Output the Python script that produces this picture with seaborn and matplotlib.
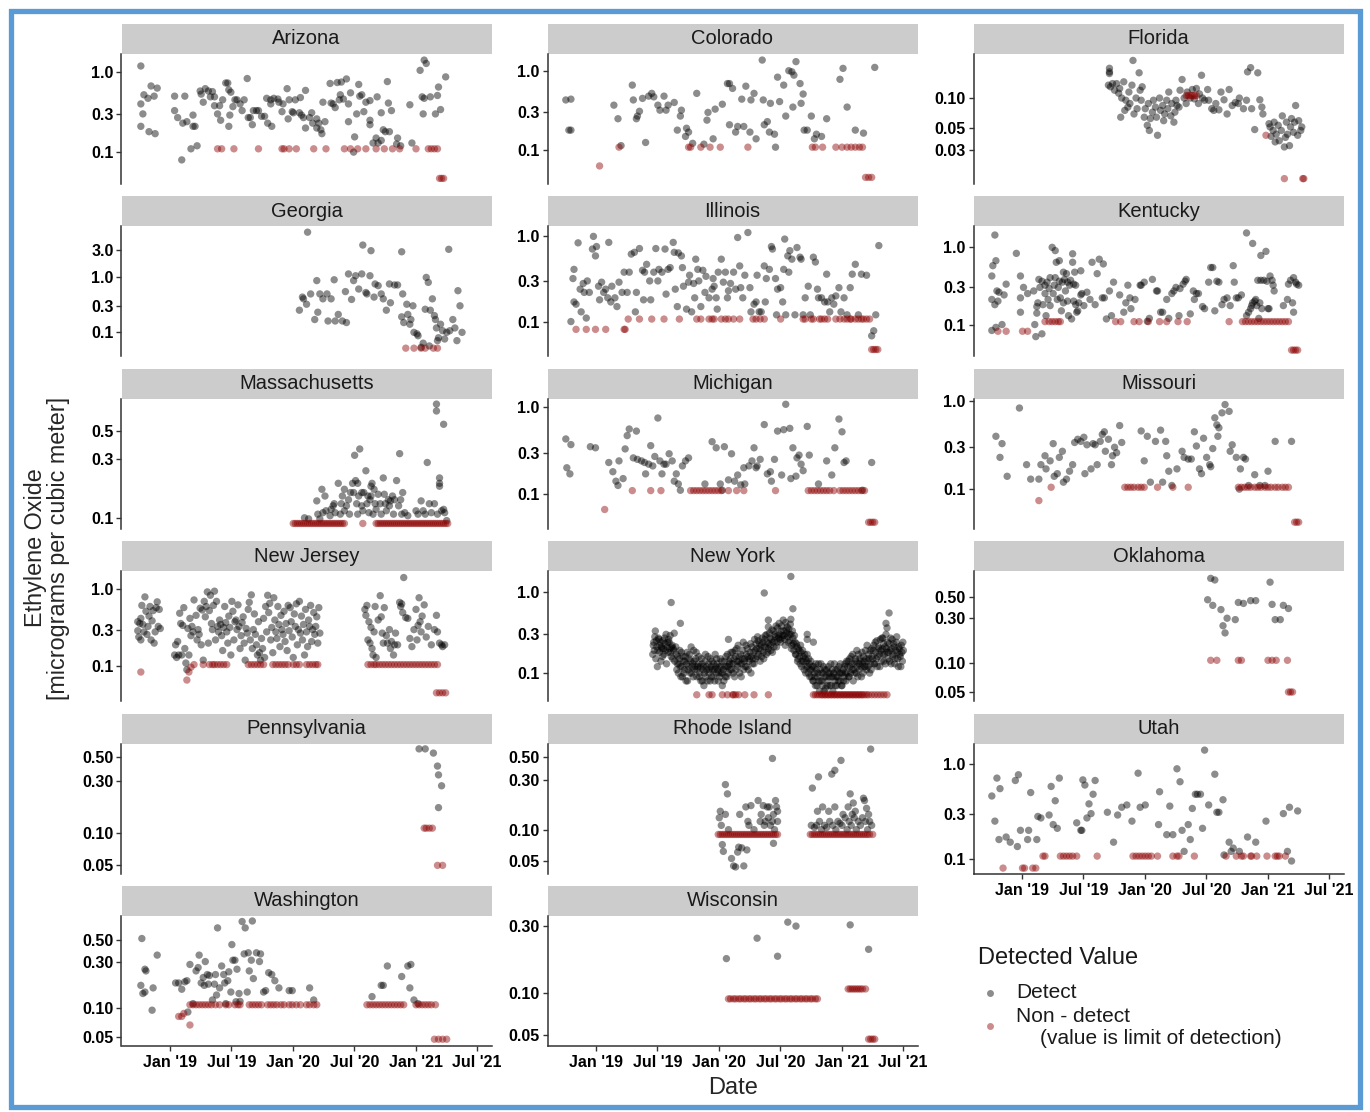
import numpy as np
import pandas as pd
import matplotlib
matplotlib.use("Agg")
import matplotlib.pyplot as plt
import seaborn as sns
from matplotlib.patches import Rectangle
from matplotlib.lines import Line2D
from matplotlib.ticker import NullLocator, FixedLocator, FixedFormatter

sns.set_theme(style="white")
plt.rcParams['font.family'] = ['Liberation Sans', 'DejaVu Sans']

# ---------------- DATA: (months since Jan 2019, concentration) ----------------
arizona_detect = [(-2.9,1.19),(-2.9,0.40),(-2.9,0.21),(-2.7,0.30),(-2.6,0.52),(-2.2,0.47),(-2.1,0.18),(-1.9,0.67),(-1.5,0.17),(-1.3,0.63),(-1.6,0.50),
    (0.4,0.50),(0.4,0.33),(0.7,0.27),(1.1,0.08),(1.2,0.23),(1.4,0.50),(1.6,0.24),(2.0,0.11),(2.2,0.29),(2.2,0.21),(2.4,0.21),(2.6,0.12),(2.9,0.58),(3.0,0.53),(3.2,0.42),(3.4,0.62),(3.7,0.58),(3.9,0.49),(4.1,0.57),(4.3,0.49),(4.3,0.38),(4.6,0.30),(4.8,0.38),(4.9,0.25),(5.1,0.45),(5.4,0.73),(5.6,0.73),(5.7,0.60),(5.8,0.29),(5.7,0.21),(5.9,0.56),(6.1,0.37),(6.3,0.45),(6.5,0.45),(6.8,0.40),(7.0,0.33),(7.2,0.45),(7.5,0.83),(7.6,0.27),(7.8,0.27),(8.0,0.22),(8.1,0.33),(8.4,0.33),(8.6,0.33),(8.9,0.28),(9.2,0.28),(9.4,0.47),(9.5,0.23),(9.8,0.40),(9.8,0.45),(9.9,0.21),(10.1,0.47),(10.5,0.46),(10.6,0.42),(10.9,0.32),(11.0,0.40),(11.4,0.62),(11.5,0.26),(11.6,0.45),(11.9,0.32),(12.0,0.31),(12.2,0.45),(12.6,0.31),(12.7,0.48),(12.8,0.29),(13.0,0.27),(13.2,0.20),(13.2,0.59),(13.6,0.27),(13.8,0.31),(13.9,0.23),(14.3,0.26),(14.3,0.20),(14.5,0.23),(14.7,0.19),(14.8,0.17),(14.9,0.42),(15.1,0.24),(15.6,0.72),(15.7,0.41),(15.9,0.40),(16.1,0.36),(16.3,0.74),(16.5,0.45),(16.6,0.52),(16.7,0.75),(16.9,0.46),(17.2,0.82),(17.4,0.40),(17.4,0.24),(17.6,0.55),(17.9,0.10),(18.0,0.155),(18.2,0.30),(18.4,0.70),(18.5,0.50),(18.7,0.52),(18.9,0.32),(19.1,0.42),(19.5,0.25),(19.5,0.22),(19.5,0.44),(19.8,0.13),(20.1,0.15),(20.2,0.49),(20.3,0.13),(20.6,0.14),(20.6,0.31),(20.8,0.19),(21.0,0.18),(21.2,0.76),(21.3,0.41),(21.4,0.18),(21.6,0.33),(22.1,0.126),(22.2,0.15),(22.5,0.12),(23.4,0.39),(23.6,0.13),(24.4,1.05),(24.6,0.49),(24.7,0.30),(24.8,1.41),(25.0,1.28),(24.8,0.47),(25.4,0.49),(25.9,0.30),(26.1,0.51),(26.2,0.65),(26.4,0.34),(26.9,0.87)]
arizona_nondetect = [(0.11,[4.6,5.0,6.2,8.6,10.9,11.1,11.6,12.3,14.0,15.2,17.0,17.6,18.3,19.1,20.1,20.9,21.7,22.4,24.0,25.2,25.5,25.8,26.1]),
    (0.047,[26.3,26.5,26.7])]

colorado_detect = [(-3.0,0.43),(-2.5,0.44),(-2.7,0.18),(-2.5,0.18),(1.7,0.37),(2.1,0.25),(2.4,0.115),(3.5,0.66),(3.6,0.43),(3.9,0.25),(4.0,0.27),(4.2,0.31),(4.5,0.45),(4.8,0.126),(5.1,0.48),(5.4,0.52),(5.6,0.47),(6.0,0.37),(6.2,0.32),(6.6,0.48),(6.8,0.32),(7.0,0.37),(7.6,0.40),(7.9,0.18),(8.2,0.27),(8.3,0.32),(8.7,0.15),(8.8,0.19),(9.0,0.17),(9.4,0.123),(9.8,0.52),(10.5,0.12),(10.8,0.24),(10.9,0.30),(11.4,0.14),(11.6,0.33),(12.3,0.38),(12.8,0.69),(13.0,0.69),(13.0,0.21),(13.3,0.60),(13.6,0.17),(13.8,0.20),(14.2,0.44),(14.4,0.20),(14.6,0.64),(15.0,0.17),(15.1,0.43),(15.4,0.52),(15.6,0.14),(16.2,1.36),(16.3,0.43),(16.4,0.21),(16.7,0.23),(16.9,0.17),(17.0,0.39),(17.4,0.16),(17.5,0.11),(17.7,0.83),(17.9,0.41),(18.3,0.66),(18.5,0.27),(18.8,1.0),(19.1,0.97),(19.2,0.35),(19.3,0.88),(19.5,1.30),(19.9,0.69),(20.0,0.39),(20.2,0.51),(20.3,0.18),(20.6,0.18),(21.0,0.27),(21.3,0.14),(21.5,0.16),(22.0,0.15),(22.5,0.25),(23.8,0.78),(24.1,1.07),(24.5,0.35),(25.3,0.18),(26.1,0.165),(27.2,1.10)]
colorado_nondetect = [(0.11,[2.2,9.0,9.2,10.2,11.1,12.1,14.8,21.1,21.4,22.1,23.4,24.0,24.5,24.9,25.3,25.7,26.0]),
    (0.064,[0.3]),(0.046,[26.3,26.6,26.9])]

florida_detect = [(8.5,0.20),(8.5,0.184),(8.5,0.177),(8.4,0.135),(8.6,0.13),(8.8,0.14),(9.0,0.12),(9.2,0.14),(9.4,0.112),(9.5,0.125),(9.6,0.064),(9.7,0.10),(9.9,0.146),(10.0,0.075),(10.1,0.095),(10.3,0.081),(10.4,0.115),(10.5,0.088),(10.7,0.135),(10.8,0.24),(10.9,0.069),(11.1,0.10),(11.2,0.078),(11.4,0.18),(11.5,0.12),(11.6,0.095),(11.7,0.13),(11.9,0.064),(12.0,0.078),(12.2,0.053),(12.3,0.088),(12.4,0.047),(12.5,0.062),(12.7,0.072),(12.8,0.095),(13.0,0.081),(13.1,0.064),(13.2,0.042),(13.4,0.10),(13.5,0.075),(13.7,0.084),(13.8,0.059),(13.9,0.069),(14.1,0.095),(14.2,0.078),(14.3,0.115),(14.5,0.066),(14.6,0.088),(14.8,0.057),(14.9,0.072),(15.0,0.095),(15.1,0.084),(15.3,0.081),(15.4,0.12),(15.6,0.154),(15.8,0.10),(16.0,0.088),(16.1,0.115),(16.4,0.10),(16.6,0.122),(16.8,0.098),(17.0,0.125),(17.2,0.088),(17.3,0.11),(17.5,0.17),(17.6,0.10),(17.8,0.095),(18.1,0.122),(18.2,0.095),(18.5,0.078),(18.7,0.075),(18.9,0.088),(19.2,0.076),(19.4,0.115),(19.7,0.096),(20.0,0.069),(20.2,0.122),(20.5,0.084),(20.8,0.09),(21.1,0.088),(21.2,0.10),(21.6,0.078),(21.9,0.095),(22.0,0.184),(22.3,0.203),(22.4,0.078),(22.7,0.048),(23.0,0.18),(23.2,0.096),(23.4,0.081),(23.5,0.069),(24.1,0.055),(24.2,0.051),(24.3,0.041),(24.5,0.047),(24.6,0.057),(24.7,0.036),(24.8,0.043),(25.0,0.053),(25.1,0.037),(25.3,0.047),(25.4,0.066),(25.6,0.032),(25.7,0.040),(25.8,0.057),(25.9,0.043),(26.1,0.033),(26.2,0.051),(26.3,0.062),(26.5,0.045),(26.6,0.057),(26.7,0.084),(26.9,0.042),(27.0,0.059),(27.2,0.047),(27.3,0.051)]
florida_nondetect = [(0.106,[16.0,16.2,16.4,16.6,16.8,17.0]),(0.042,[23.8]),(0.0153,[25.6,27.4,27.5])]

georgia_detect = [(12.6,0.25),(12.9,0.43),(13.0,0.40),(13.3,0.32),(13.4,6.3),(13.7,0.49),(14.1,0.17),(14.3,0.85),(14.4,0.23),(14.6,0.49),(14.9,0.40),(15.3,0.49),(15.4,0.16),(15.7,0.40),(16.0,0.88),(16.1,0.16),(16.4,0.21),(16.8,0.16),(17.1,0.54),(17.2,0.15),(17.4,1.12),(17.7,0.39),(17.9,0.85),(18.1,1.04),(18.4,0.60),(18.7,1.12),(18.8,3.7),(19.1,0.52),(19.2,0.49),(19.5,1.04),(19.6,2.93),(19.9,0.43),(20.0,0.74),(20.3,0.69),(20.6,0.49),(20.8,0.40),(21.1,0.25),(21.4,0.74),(21.5,0.34),(21.9,0.71),(22.2,0.71),(22.6,2.8),(22.6,0.19),(22.7,0.49),(22.8,0.15),(23.1,0.32),(23.2,0.21),(23.4,0.14),(23.5,0.17),(23.7,0.30),(23.8,0.10),(24.1,0.094),(24.2,0.087),(24.5,0.054),(24.7,0.064),(24.9,0.26),(25.0,0.97),(25.2,0.79),(25.3,0.057),(25.4,0.25),(25.6,0.40),(25.8,0.20),(25.9,0.17),(26.0,0.12),(26.1,0.071),(26.2,0.08),(26.4,0.14),(26.6,0.107),(26.8,0.076),(27.0,0.10),(27.2,3.1),(27.3,0.107),(27.6,0.17),(27.8,0.12),(28.0,0.071),(28.1,0.56),(28.3,0.30),(28.5,0.10)]
georgia_nondetect = [(0.052,[23.0,23.8,24.5,24.9,25.7,26.1])]

illinois_detect = [(-2.5,0.10),(-2.3,0.32),(-2.2,0.41),(-2.2,0.17),(-2.0,0.16),(-1.8,0.84),(-1.6,0.24),(-1.5,0.13),(-1.3,0.28),(-1.2,0.22),(-1.0,0.11),(-0.9,0.30),(-0.7,0.22),(-0.4,0.71),(-0.3,1.0),(-0.1,0.59),(0.0,0.76),(0.2,0.26),(0.3,0.18),(0.5,0.29),(0.7,0.22),(0.9,0.24),(1.1,0.19),(1.2,0.85),(1.4,0.17),(1.5,0.26),(1.8,0.19),(2.0,0.15),(2.2,0.29),(2.5,0.22),(2.7,0.38),(3.0,0.22),(3.2,0.38),(3.4,0.62),(3.7,0.65),(3.8,0.13),(3.9,0.22),(4.2,0.72),(4.5,0.40),(4.6,0.18),(4.7,0.38),(4.9,0.47),(5.2,0.30),(5.3,0.18),(5.6,0.38),(5.8,0.72),(6.0,0.30),(6.1,0.41),(6.4,0.38),(6.7,0.71),(6.8,0.21),(7.0,0.41),(7.2,0.43),(7.5,0.85),(7.6,0.65),(7.7,0.24),(7.9,0.15),(8.0,0.64),(8.3,0.59),(8.4,0.43),(8.5,0.26),(8.8,0.14),(9.0,0.29),(9.1,0.35),(9.3,0.13),(9.5,0.28),(9.6,0.19),(9.7,0.54),(9.9,0.41),(10.0,0.30),(10.2,0.15),(10.4,0.40),(10.6,0.22),(10.7,0.34),(11.0,0.19),(11.3,0.24),(11.4,0.32),(11.5,0.26),(11.7,0.19),(11.8,0.14),(11.9,0.38),(12.2,0.54),(12.4,0.29),(12.6,0.38),(12.8,0.19),(12.9,0.23),(13.1,0.28),(13.4,0.38),(13.6,0.24),(13.8,0.97),(14.0,0.45),(14.1,0.25),(14.3,0.19),(14.5,0.35),(14.8,1.11),(15.0,0.25),(15.1,0.13),(15.4,0.16),(15.6,0.17),(15.7,0.35),(15.9,0.13),(16.1,0.13),(16.4,0.45),(16.5,0.17),(16.6,0.32),(16.9,0.41),(17.1,0.76),(17.2,0.71),(17.5,0.32),(17.6,0.12),(17.7,0.24),(18.0,0.25),(18.2,0.17),(18.3,0.41),(18.4,0.93),(18.5,0.12),(18.7,0.59),(18.8,0.38),(18.9,0.68),(19.1,0.54),(19.4,0.12),(19.6,0.74),(19.9,0.57),(20.0,0.54),(20.2,0.12),(20.4,0.19),(20.7,0.26),(20.9,0.12),(21.2,0.57),(21.4,0.50),(21.6,0.24),(21.7,0.19),(22.0,0.19),(22.3,0.17),(22.5,0.36),(22.6,0.17),(22.8,0.13),(23.0,0.19),(23.2,0.16),(23.4,0.2),(23.7,0.25),(23.9,0.13),(24.2,0.19),(24.5,0.12),(24.8,0.25),(25.0,0.36),(25.3,0.47),(25.6,0.12),(25.9,0.36),(26.4,0.35),(26.9,0.068),(27.1,0.078),(27.3,0.12),(27.6,0.78)]
illinois_nondetect = [(0.107,[3.1,4.2,5.4,6.6,8.1,9.8,10.2,11.0,11.3,11.5,12.2,12.6,12.9,13.4,14.0,15.3,15.6,16.0,16.4,18.0,20.2,20.4,21.0,21.2,21.8,22.0,22.3,22.6,23.4,23.8,24.2,24.5,24.8,24.9,25.3,25.6,25.9,26.1,26.4,26.7]),
    (0.081,[-2.0,-1.0,-0.1,0.9,2.7,2.8]),(0.047,[26.9,27.1,27.3,27.5])]

kentucky_detect = [(-3.0,0.42),(-3.0,0.21),(-3.0,0.084),(-2.9,0.57),(-2.7,1.41),(-2.7,0.18),(-2.6,0.66),(-2.6,0.092),(-2.5,0.27),(-2.4,0.20),(-2.3,0.26),(-2.0,0.1),(-1.8,0.24),(-1.6,0.33),(-0.6,0.82),(-0.2,0.42),(-0.2,0.22),(-0.2,0.144),(0.1,0.3),(0.5,0.25),(1.1,0.27),(1.2,0.1),(1.3,0.07),(1.4,0.14),(1.4,0.17),(1.5,0.19),(1.6,0.38),(1.7,0.3),(1.9,0.36),(1.9,0.076),(2.0,0.18),(2.2,0.25),(2.2,0.32),(2.3,0.13),(2.4,0.35),(2.5,0.21),(2.6,0.29),(2.7,0.40),(2.7,0.175),(2.9,0.98),(3.0,0.25),(3.1,0.32),(3.2,0.40),(3.2,0.89),(3.3,0.63),(3.4,0.21),(3.5,0.3),(3.6,0.66),(3.6,0.36),(3.7,0.22),(3.8,0.15),(3.9,0.35),(4.0,0.47),(4.0,0.19),(4.1,0.38),(4.2,0.27),(4.3,0.45),(4.4,0.35),(4.4,0.20),(4.5,0.13),(4.6,0.32),(4.7,0.37),(4.8,0.118),(4.9,0.63),(4.9,0.81),(5.0,0.33),(5.0,0.20),(5.1,0.47),(5.2,0.32),(5.2,0.18),(5.3,0.144),(5.4,0.15),(5.5,0.19),(5.7,0.49),(5.7,0.24),(5.8,0.25),(6.0,0.175),(6.3,0.26),(6.6,0.21),(6.8,0.63),(7.1,0.18),(7.3,0.45),(7.5,0.69),(7.8,0.22),(7.9,0.60),(8.0,0.22),(8.2,0.118),(8.5,0.27),(8.7,0.13),(8.9,0.35),(9.5,0.24),(9.9,0.144),(10.1,0.19),(10.3,0.32),(10.5,0.22),(10.6,0.16),(11.0,0.21),(11.5,0.32),(11.6,0.32),(11.9,0.35),(12.2,0.11),(12.4,0.12),(12.7,0.38),(13.1,0.27),(13.2,0.27),(13.5,0.144),(13.7,0.144),(14.1,0.21),(14.3,0.12),(14.6,0.25),(14.8,0.27),(15.0,0.3),(15.3,0.13),(15.4,0.29),(15.7,0.33),(15.9,0.36),(16.0,0.38),(16.4,0.137),(16.7,0.27),(16.8,0.21),(17.0,0.25),(17.2,0.25),(17.6,0.17),(17.8,0.16),(18.2,0.35),(18.4,0.54),(18.6,0.54),(18.8,0.15),(19.0,0.36),(19.2,0.35),(19.5,0.18),(19.7,0.21),(20.0,0.22),(20.3,0.175),(20.6,0.57),(20.7,0.35),(20.9,0.22),(21.1,0.22),(21.4,0.24),(21.9,0.13),(21.9,1.5),(22.1,0.144),(22.3,0.16),(22.4,0.175),(22.5,0.19),(22.5,1.1),(22.7,0.20),(22.8,0.21),(22.9,0.175),(23.0,0.37),(23.1,0.12),(23.2,0.19),(23.3,0.77),(23.3,0.37),(23.4,0.16),(23.6,0.37),(23.8,0.87),(23.9,0.36),(24.0,0.16),(24.1,0.16),(24.2,0.42),(24.4,0.37),(24.5,0.32),(24.6,0.27),(25.5,0.175),(25.9,0.21),(26.0,0.33),(26.2,0.37),(26.4,0.19),(26.5,0.144),(26.5,0.40),(26.7,0.35),(26.8,0.33),(27.0,0.32)]
kentucky_nondetect = [(0.109,[2.2,2.6,2.9,3.2,3.5,3.7,9.1,9.6,10.9,11.4,12.3,13.4,14.1,15.2,16.1,20.2,21.5,21.8,22.1,22.4,22.7,23.0,23.3,23.6,23.9,24.2,24.5,24.8,25.1,25.4,25.7,26.0]),
    (0.082,[-2.4,-1.6,0.0,0.5]),(0.047,[26.3,26.5,26.7,26.9])]

massachusetts_detect = [(13.1,0.10),(13.5,0.098),(14.3,0.137),(14.4,0.107),(14.6,0.098),(14.8,0.17),(14.9,0.11),(15.1,0.15),(15.2,0.114),(15.6,0.104),(15.7,0.117),(15.9,0.125),(16.0,0.13),(16.1,0.11),(16.4,0.19),(16.6,0.107),(16.7,0.13),(16.8,0.15),(17.0,0.17),(17.0,0.114),(17.2,0.125),(17.4,0.14),(17.5,0.107),(17.6,0.16),(17.8,0.19),(17.9,0.16),(18.0,0.32),(18.1,0.2),(18.2,0.13),(18.3,0.19),(18.3,0.107),(18.4,0.15),(18.5,0.36),(18.7,0.125),(18.7,0.16),(18.8,0.114),(18.9,0.16),(19.1,0.24),(19.2,0.13),(19.3,0.15),(19.4,0.11),(19.5,0.14),(19.6,0.15),(19.6,0.18),(19.7,0.19),(19.8,0.107),(19.9,0.17),(20.0,0.13),(20.1,0.117),(20.3,0.155),(20.5,0.13),(20.6,0.107),(20.8,0.21),(20.9,0.155),(21.0,0.13),(21.1,0.114),(21.3,0.14),(21.4,0.125),(21.5,0.137),(21.7,0.15),(21.8,0.107),(21.9,0.14),(22.1,0.2),(22.3,0.125),(22.4,0.33),(22.5,0.14),(22.6,0.107),(22.7,0.16),(22.9,0.11),(23.2,0.104),(24.0,0.114),(24.2,0.107),(24.5,0.137),(24.7,0.114),(24.9,0.107),(25.1,0.28),(25.3,0.13),(25.5,0.11),(25.8,0.13),(26.0,0.83),(26.0,0.73),(26.1,0.107),(26.3,0.21),(26.3,0.19),(26.3,0.18),(26.5,0.114),(26.7,0.57),(26.7,0.117),(26.8,0.11),(27.0,0.095)]
massachusetts_nondetect = [(0.09,[12.0,12.2,12.4,12.6,12.8,13.0,13.2,13.4,13.6,13.8,14.0,14.2,14.4,14.6,14.8,15.0,15.2,15.4,15.6,15.8,16.0,16.2,16.4,16.6,16.8,17.0,18.8,20.1,20.3,20.5,20.7,20.9,21.1,21.3,21.5,21.7,21.9,22.1,22.3,22.5,22.7,22.9,23.1,23.3,23.5,23.7,23.9,24.1,24.3,24.5,24.7,24.9,25.1,25.3,25.5,25.7,25.9,26.1,26.3,26.5,26.7,26.9,27.1])]

michigan_detect = [(-3.0,0.43),(-2.9,0.2),(-2.6,0.17),(-2.5,0.37),(-0.6,0.35),(-0.1,0.34),(1.2,0.23),(1.6,0.18),(1.9,0.14),(2.1,0.125),(2.2,0.24),(2.6,0.15),(2.8,0.33),(3.0,0.47),(3.2,0.56),(3.6,0.26),(3.9,0.53),(4.0,0.25),(4.4,0.24),(4.7,0.23),(4.8,0.17),(5.1,0.22),(5.3,0.36),(5.5,0.21),(5.7,0.27),(6.0,0.75),(6.2,0.24),(6.4,0.17),(6.6,0.22),(6.8,0.22),(7.1,0.29),(7.4,0.24),(7.6,0.14),(7.8,0.17),(8.0,0.13),(8.2,0.11),(8.4,0.21),(8.7,0.24),(9.0,0.26),(10.6,0.13),(11.3,0.40),(11.7,0.34),(12.3,0.11),(12.5,0.35),(12.1,0.13),(12.9,0.145),(13.2,0.29),(13.5,0.14),(13.8,0.165),(14.1,0.127),(14.4,0.2),(14.5,0.13),(14.9,0.21),(15.2,0.24),(15.4,0.34),(15.6,0.2),(15.7,0.21),(16.0,0.25),(16.4,0.63),(16.7,0.17),(17.0,0.18),(17.1,0.14),(17.4,0.25),(17.7,0.53),(18.1,0.165),(18.3,0.55),(18.5,1.08),(18.9,0.57),(19.0,0.15),(19.2,0.34),(19.5,0.16),(19.6,0.26),(19.8,0.28),(20.0,0.22),(20.2,0.185),(20.6,0.6),(20.8,0.28),(21.7,0.13),(22.5,0.24),(23.0,0.165),(23.3,0.34),(23.7,0.73),(24.0,0.52),(24.2,0.23),(24.4,0.24),(26.0,0.11),(26.9,0.23)]
michigan_nondetect = [(0.109,[3.5,5.3,6.3,9.2,9.5,9.8,10.1,10.4,10.7,11.0,11.3,11.6,11.9,12.2,12.9,13.7,14.4,17.5,20.7,21.0,21.3,21.6,21.9,22.2,22.5,22.8,23.2,23.8,24.1,24.4,24.7,25.0,25.3,25.6,25.9,26.2]),
    (0.066,[0.8]),(0.047,[26.6,26.8,27.0,27.2])]

missouri_detect = [(-2.6,0.40),(-2.2,0.23),(-2.0,0.33),(-1.5,0.14),(-0.3,0.84),(0.4,0.19),(0.8,0.13),(1.6,0.13),(1.8,0.19),(2.2,0.24),(2.3,0.17),(2.7,0.21),(3.0,0.33),(3.1,0.14),(3.4,0.15),(3.6,0.23),(3.9,0.27),(4.0,0.12),(4.3,0.13),(4.6,0.16),(4.9,0.19),(5.1,0.34),(5.4,0.37),(5.7,0.35),(6.0,0.39),(6.1,0.15),(6.3,0.32),(6.7,0.17),(6.9,0.33),(7.1,0.32),(7.3,0.19),(7.6,0.35),(7.8,0.42),(8.0,0.45),(8.1,0.27),(8.4,0.37),(8.7,0.19),(8.8,0.24),(9.0,0.30),(9.2,0.26),(9.5,0.53),(9.7,0.34),(11.6,0.46),(11.9,0.21),(12.2,0.40),(12.5,0.12),(13.0,0.35),(13.5,0.47),(13.7,0.12),(14.0,0.35),(14.1,0.24),(14.3,0.16),(14.6,0.11),(15.1,0.17),(15.6,0.27),(15.8,0.23),(16.2,0.22),(16.5,0.22),(16.8,0.45),(17.0,0.31),(17.3,0.17),(17.5,0.15),(17.7,0.38),(18.0,0.23),(18.3,0.19),(18.4,0.18),(18.6,0.29),(18.8,0.65),(19.0,0.54),(19.1,0.40),(19.2,0.50),(19.5,0.74),(19.8,0.92),(20.2,0.77),(20.3,0.27),(20.5,0.32),(20.9,0.23),(21.2,0.1),(21.3,0.17),(21.6,0.23),(21.8,0.22),(22.1,0.11),(22.7,0.146),(23.2,0.11),(23.7,0.11),(24.0,0.16),(24.7,0.35),(26.3,0.35)]
missouri_nondetect = [(0.105,[2.8,10.0,10.3,10.6,10.9,11.3,11.6,11.9,13.2,14.7,16.2,21.1,21.4,21.7,22.0,22.3,22.7,23.0,23.3,23.7,24.0,24.3,24.7,25.0,25.4,25.7,26.0]),
    (0.074,[1.6]),(0.042,[26.6,26.8,27.0])]

new_jersey_detect = [(-3.2,0.38),(-3.2,0.29),(-3.1,0.24),(-3.0,0.36),(-2.9,0.42),(-2.9,0.22),(-2.8,0.62),(-2.7,0.35),(-2.6,0.28),(-2.5,0.80),(-2.4,0.52),(-2.3,0.26),(-2.2,0.33),(-2.1,0.45),(-2.0,0.60),(-1.9,0.22),(-1.8,0.39),(-1.7,0.53),(-1.6,0.20),(-1.5,0.28),(-1.4,0.58),(-1.3,0.69),(-1.2,0.33),(-1.1,0.55),(-1.0,0.31),
    (0.4,0.14),(0.5,0.19),(0.6,0.13),(0.7,0.21),(0.8,0.14),(0.9,0.49),(1.0,0.36),(1.1,0.14),(1.2,0.34),(1.3,0.58),(1.4,0.17),(1.5,0.11),(1.6,0.09),(1.7,0.31),(1.8,0.14),(1.9,0.42),(2.0,0.25),
    (2.1,0.33),(2.2,0.28),(2.3,0.73),(2.5,0.46),(2.6,0.22),(2.7,0.30),(2.8,0.26),(2.9,0.57),(3.0,0.19),(3.1,0.54),(3.2,0.12),(3.3,0.70),(3.4,0.44),(3.5,0.60),(3.6,0.93),(3.7,0.20),(3.8,0.53),(3.9,0.84),(4.0,0.36),(4.1,0.30),(4.2,0.62),(4.3,0.95),(4.4,0.22),(4.5,0.70),(4.6,0.33),(4.7,0.28),(4.8,0.40),(4.9,0.35),(5.0,0.25),
    (5.1,0.16),(5.2,0.32),(5.3,0.60),(5.4,0.37),(5.5,0.28),(5.6,0.20),(5.7,0.45),(5.8,0.32),(5.9,0.14),(6.0,0.70),(6.1,0.52),(6.2,0.22),(6.3,0.38),(6.4,0.40),(6.5,0.30),(6.6,0.63),(6.7,0.33),(6.8,0.17),(6.9,0.25),(7.0,0.37),(7.1,0.44),(7.2,0.20),(7.3,0.12),(7.4,0.31),(7.5,0.27),(7.6,0.55),(7.7,0.68),(7.8,0.22),(7.9,0.85),(8.0,0.17),
    (8.1,0.30),(8.2,0.48),(8.3,0.26),(8.4,0.19),(8.5,0.14),(8.6,0.38),(8.7,0.15),(8.8,0.12),(8.9,0.23),(9.0,0.17),(9.1,0.42),(9.2,0.13),(9.3,0.60),(9.4,0.28),(9.5,0.84),(9.6,0.50),(9.7,0.66),(9.8,0.22),(9.9,0.32),(10.0,0.15),(10.1,0.78),(10.2,0.40),(10.3,0.28),(10.4,0.23),(10.5,0.60),(10.6,0.35),(10.7,0.18),(10.8,0.46),(10.9,0.30),(11.0,0.26),
    (11.1,0.52),(11.2,0.21),(11.3,0.36),(11.4,0.16),(11.5,0.62),(11.6,0.29),(11.7,0.58),(11.8,0.38),(11.9,0.24),(12.0,0.13),(12.1,0.48),(12.2,0.33),(12.3,0.65),(12.4,0.19),(12.5,0.30),(12.6,0.70),(12.7,0.27),(12.8,0.45),(12.9,0.22),(13.0,0.35),(13.1,0.14),(13.2,0.55),(13.3,0.28),(13.4,0.18),(13.5,0.40),(13.6,0.33),(13.7,0.62),(13.8,0.21),(13.9,0.30),(14.0,0.50),(14.1,0.26),(14.2,0.33),(14.3,0.44),(14.4,0.20),(14.5,0.58),(14.6,0.27),
    (19.0,0.55),(19.1,0.46),(19.2,0.62),(19.3,0.22),(19.4,0.38),(19.5,0.20),(19.6,0.32),(19.7,0.17),(19.8,0.14),(19.9,0.28),(20.0,0.60),(20.1,0.13),(20.3,0.40),(20.5,0.83),(20.6,0.44),(20.7,0.27),(20.8,0.20),(20.9,0.58),(21.1,0.25),(21.2,0.20),(21.4,0.30),(21.5,0.17),(21.6,0.21),(21.8,0.14),(21.9,0.19),(22.0,0.27),(22.2,0.19),(22.4,0.68),(22.5,0.60),(22.6,0.65),(22.7,0.50),(22.8,1.43),(23.0,0.43),(23.2,0.42),(23.4,0.23),(23.6,0.18),(23.8,0.30),(24.0,0.55),(24.1,0.22),(24.2,0.34),(24.3,0.78),(24.4,0.38),(24.5,0.28),(24.6,0.45),(24.8,0.63),(25.0,0.24),(25.2,0.33),(25.5,0.19),(25.8,0.30),(26.0,0.46),(26.1,0.28),(26.3,0.20),(26.5,0.19),(26.6,0.18),(26.8,0.19)]
new_jersey_nondetect = [(0.105,[2.3,3.2,3.8,4.1,4.3,4.6,4.9,5.2,5.5,7.6,7.9,8.2,8.5,8.8,9.1,10.0,10.3,10.6,10.9,11.2,11.5,12.0,12.3,12.6,13.3,13.6,13.9,14.2,14.4,19.3,19.6,19.9,20.1,20.4,20.7,21.0,21.3,21.6,21.9,22.2,22.5,22.8,23.1,23.4,23.7,24.0,24.3,24.6,24.9,25.2,25.5,25.8,26.1]),
    (0.097,[2.0]),(0.084,[-2.9,1.8]),(0.066,[1.6]),(0.045,[26.0,26.3,26.6,26.9])]

new_york_detect = [(5.5,0.17),(5.6,0.24),(5.7,0.28),(5.8,0.15),(5.9,0.21),(6.0,0.19),(6.1,0.26),(6.2,0.22),(6.3,0.14),(6.4,0.20),(6.5,0.25),(6.6,0.17),(6.7,0.23),(6.8,0.30),(6.9,0.21),(7.0,0.18),(7.1,0.24),(7.2,0.29),(7.3,0.16),(7.4,0.22),(7.5,0.20),(7.6,0.31),(7.3,0.74),(7.8,0.17),(7.9,0.13),
    (8.0,0.10),(8.1,0.15),(8.2,0.12),(8.3,0.18),(8.4,0.09),(8.5,0.14),(8.6,0.11),(8.7,0.16),(8.8,0.13),(8.9,0.08),(9.0,0.12),(9.1,0.17),(9.2,0.14),(9.3,0.10),(9.4,0.13),(9.5,0.19),(9.6,0.11),(9.7,0.15),(9.8,0.09),(9.9,0.12),(10.0,0.16),(8.2,0.41),
    (10.1,0.10),(10.2,0.08),(10.3,0.13),(10.4,0.11),(10.5,0.07),(10.6,0.14),(10.7,0.09),(10.8,0.12),(10.9,0.16),(11.0,0.10),(11.1,0.08),(11.2,0.12),(11.3,0.14),(11.4,0.09),(11.5,0.11),(11.6,0.17),(11.7,0.10),(11.8,0.13),(11.9,0.08),(12.0,0.12),(12.1,0.15),(12.2,0.10),(12.3,0.07),(12.4,0.11),(12.5,0.14),(12.6,0.09),(12.7,0.12),(12.8,0.17),(12.9,0.10),(13.0,0.13),(12.9,0.26),
    (13.1,0.15),(13.2,0.11),(13.3,0.18),(13.4,0.13),(13.5,0.09),(13.6,0.16),(13.7,0.20),(13.8,0.12),(13.9,0.14),(14.0,0.10),(14.1,0.17),(14.2,0.13),(14.3,0.19),(14.4,0.11),(14.5,0.15),(14.6,0.22),(14.7,0.12),(14.8,0.16),(14.9,0.14),(15.0,0.18),(15.1,0.10),(15.2,0.21),(15.3,0.15),(15.4,0.13),
    (15.5,0.19),(15.6,0.23),(15.7,0.16),(15.8,0.25),(15.9,0.20),(16.0,0.14),(16.1,0.22),(16.2,0.27),(16.3,0.18),(16.4,0.21),(16.5,0.29),(16.6,0.17),(16.7,0.24),(16.8,0.20),(16.9,0.31),(17.0,0.22),(17.1,0.26),(17.2,0.18),(17.3,0.33),(17.4,0.25),(17.5,0.28),(17.6,0.21),(17.7,0.36),(17.8,0.27),(17.9,0.30),(16.4,0.97),(16.8,0.45),(16.8,0.37),
    (18.0,0.24),(18.1,0.38),(18.2,0.29),(18.3,0.33),(18.4,0.26),(18.5,0.42),(18.6,0.31),(18.7,0.28),(18.8,0.35),(18.9,0.25),(19.0,0.30),(19.1,0.22),(19.2,0.27),(19.3,0.19),(19.4,0.24),(19.0,1.55),(19.2,0.62),(19.0,0.46),
    (19.5,0.17),(19.6,0.21),(19.7,0.15),(19.8,0.19),(19.9,0.13),(20.0,0.18),(20.1,0.14),(20.2,0.16),(20.3,0.11),(20.4,0.15),(20.5,0.12),(20.6,0.17),(20.7,0.10),(20.8,0.13),(20.9,0.11),(20.6,0.30),(20.6,0.26),(21.2,0.24),
    (21.0,0.09),(21.1,0.12),(21.2,0.08),(21.3,0.10),(21.4,0.07),(21.5,0.11),(21.6,0.09),(21.7,0.13),(21.8,0.06),(21.9,0.08),(22.0,0.10),(22.1,0.07),(22.2,0.12),(22.3,0.09),(22.4,0.065),(22.5,0.11),(22.6,0.08),(22.7,0.10),(22.8,0.07),(22.9,0.13),(23.0,0.09),(23.1,0.06),(23.2,0.10),(23.3,0.08),(23.4,0.11),(23.5,0.07),(23.6,0.09),(23.7,0.12),(23.8,0.08),(23.9,0.10),(24.0,0.07),(24.1,0.11),(24.2,0.09),(24.3,0.13),(24.4,0.08),
    (24.5,0.10),(24.6,0.14),(24.7,0.09),(24.8,0.12),(24.9,0.16),(25.0,0.11),(25.1,0.08),(25.2,0.13),(25.3,0.15),(25.4,0.10),(25.5,0.12),(25.6,0.17),(25.7,0.11),(25.8,0.14),(25.9,0.09),(26.0,0.13),(26.1,0.16),(26.2,0.12),(26.3,0.19),(26.4,0.11),(26.5,0.14),(26.6,0.17),(26.7,0.10),(26.8,0.13),(26.9,0.20),
    (27.0,0.15),(27.1,0.22),(27.2,0.13),(27.3,0.18),(27.4,0.25),(27.5,0.16),(27.6,0.20),(27.7,0.12),(27.8,0.19),(27.9,0.27),(28.0,0.17),(28.1,0.14),(28.2,0.21),(28.3,0.30),(28.4,0.18),(28.5,0.15),(28.6,0.23),(28.7,0.19),(28.8,0.13),(28.9,0.26),(29.0,0.17),(29.1,0.21),(29.2,0.15),(29.3,0.24),(29.4,0.18),(29.5,0.12),(29.6,0.20),(29.7,0.16),(29.8,0.22),(29.9,0.14),(30.0,0.19),(28.3,0.41),(28.4,0.36),(28.6,0.55),(28.0,0.27),
    (5.55,0.22),(5.65,0.19),(5.75,0.33),(5.85,0.25),(5.95,0.12),(6.05,0.27),(6.15,0.18),(6.25,0.24),(6.35,0.21),(6.45,0.16),(6.55,0.20),(6.65,0.27),(6.75,0.19),(6.85,0.13),(6.95,0.24),(7.05,0.26),(7.15,0.20),(7.25,0.18),(7.35,0.21),(7.45,0.15),(7.55,0.19),(7.65,0.14),(7.75,0.21),(7.85,0.11),(7.95,0.16),
    (8.05,0.13),(8.15,0.19),(8.25,0.09),(8.35,0.12),(8.45,0.16),(8.55,0.10),(8.65,0.14),(8.75,0.08),(8.85,0.18),(8.95,0.11),(9.05,0.15),(9.15,0.10),(9.25,0.21),(9.35,0.12),(9.45,0.09),(9.55,0.14),(9.65,0.12),(9.75,0.18),(9.85,0.11),(9.95,0.13),
    (10.05,0.09),(10.15,0.12),(10.25,0.15),(10.35,0.08),(10.45,0.12),(10.55,0.10),(10.65,0.17),(10.75,0.11),(10.85,0.08),(10.95,0.13),(11.05,0.11),(11.15,0.15),(11.25,0.09),(11.35,0.11),(11.45,0.13),(11.55,0.08),(11.65,0.12),(11.75,0.15),(11.85,0.11),(11.95,0.10),(12.05,0.09),(12.15,0.12),(12.25,0.14),(12.35,0.10),(12.45,0.08),(12.55,0.12),(12.65,0.16),(12.75,0.09),(12.85,0.12),(12.95,0.14),
    (13.05,0.11),(13.15,0.18),(13.25,0.13),(13.35,0.10),(13.45,0.15),(13.55,0.19),(13.65,0.11),(13.75,0.14),(13.85,0.22),(13.95,0.16),(14.05,0.13),(14.15,0.09),(14.25,0.15),(14.35,0.24),(14.45,0.14),(14.55,0.12),(14.65,0.17),(14.75,0.20),(14.85,0.11),(14.95,0.15),(15.05,0.23),(15.15,0.16),(15.25,0.13),(15.35,0.18),(15.45,0.26),
    (15.55,0.15),(15.65,0.20),(15.75,0.28),(15.85,0.17),(15.95,0.23),(16.05,0.19),(16.15,0.16),(16.25,0.24),(16.35,0.15),(16.45,0.26),(16.55,0.21),(16.65,0.30),(16.75,0.18),(16.85,0.23),(16.95,0.27),(17.05,0.19),(17.15,0.34),(17.25,0.24),(17.35,0.21),(17.45,0.30),(17.55,0.38),(17.65,0.24),(17.75,0.29),(17.85,0.41),(17.95,0.26),
    (18.05,0.33),(18.15,0.27),(18.25,0.45),(18.35,0.29),(18.45,0.22),(18.55,0.34),(18.65,0.37),(18.75,0.24),(18.85,0.30),(18.95,0.40),(19.05,0.20),(19.15,0.33),(19.25,0.23),(19.35,0.29),(19.45,0.17),
    (19.55,0.23),(19.65,0.14),(19.75,0.20),(19.85,0.16),(19.95,0.22),(20.05,0.12),(20.15,0.19),(20.25,0.14),(20.35,0.17),(20.45,0.10),(20.55,0.14),(20.65,0.12),(20.75,0.15),(20.85,0.09),(20.95,0.14),
    (21.05,0.11),(21.15,0.08),(21.25,0.12),(21.35,0.09),(21.45,0.13),(21.55,0.07),(21.65,0.10),(21.75,0.08),(21.85,0.11),(21.95,0.13),(22.05,0.08),(22.15,0.10),(22.25,0.06),(22.35,0.11),(22.45,0.09),(22.55,0.07),(22.65,0.12),(22.75,0.09),(22.85,0.10),(22.95,0.07),(23.05,0.11),(23.15,0.09),(23.25,0.13),(23.35,0.07),(23.45,0.09),(23.55,0.11),(23.65,0.08),(23.75,0.10),(23.85,0.13),(23.95,0.07),(24.05,0.10),(24.15,0.08),(24.25,0.12),(24.35,0.10),(24.45,0.14),
    (24.55,0.12),(24.65,0.09),(24.75,0.15),(24.85,0.10),(24.95,0.13),(25.05,0.17),(25.15,0.11),(25.25,0.10),(25.35,0.14),(25.45,0.19),(25.55,0.09),(25.65,0.13),(25.75,0.15),(25.85,0.12),(25.95,0.18),(26.05,0.10),(26.15,0.14),(26.25,0.12),(26.35,0.15),(26.45,0.22),(26.55,0.12),(26.65,0.15),(26.75,0.19),(26.85,0.11),(26.95,0.16),
    (27.05,0.19),(27.15,0.13),(27.25,0.24),(27.35,0.15),(27.45,0.12),(27.55,0.21),(27.65,0.17),(27.75,0.26),(27.85,0.14),(27.95,0.20),(28.05,0.23),(28.15,0.17),(28.25,0.13),(28.35,0.20),(28.45,0.24),(28.55,0.18),(28.65,0.14),(28.75,0.27),(28.85,0.20),(28.95,0.16),(29.05,0.23),(29.15,0.13),(29.25,0.19),(29.35,0.28),(29.45,0.15),(29.55,0.21),(29.65,0.17),(29.75,0.12),(29.85,0.18),(29.95,0.24)]
new_york_nondetect = [(0.054,[9.8,11.0,11.3,12.3,12.8,13.3,13.4,13.6,13.9,14.5,15.4,16.8,21.2,21.4,21.6,21.8,22.0,22.1,22.3,22.4,22.6,22.7,22.9,23.0,23.2,23.3,23.5,23.6,23.8,23.9,24.1,24.2,24.4,24.5,24.7,24.8,25.0,25.1,25.3,25.4,25.6,25.7,25.9,26.0,26.2,26.4,26.6,26.9,27.2,27.5,27.8,28.1,28.4])]

oklahoma_detect = [(18.4,0.79),(18.8,0.76),(18.1,0.47),(18.6,0.41),(19.4,0.37),(19.6,0.25),(19.8,0.21),(20.0,0.30),(20.8,0.29),(21.1,0.44),(21.6,0.43),(22.3,0.46),(22.8,0.46),(24.2,0.72),(24.4,0.42),(24.7,0.29),(25.2,0.29),(25.5,0.41),(26.0,0.38)]
oklahoma_nondetect = [(0.108,[18.4,19.0,21.1,21.4,24.0,24.4,24.8,25.9]),(0.05,[26.0,26.2,26.4])]

pennsylvania_detect = [(24.3,0.59),(24.9,0.59),(25.7,0.54),(26.1,0.41),(26.2,0.34),(26.5,0.27),(26.2,0.17)]
pennsylvania_nondetect = [(0.11,[24.8,25.0,25.3,25.6]),(0.05,[26.1,26.6])]

rhode_island_detect = [(12.0,0.13),(12.1,0.15),(12.2,0.11),(12.3,0.072),(12.4,0.062),(12.6,0.27),(12.6,0.14),(12.8,0.22),(12.9,0.10),(13.2,0.053),(13.4,0.045),(13.6,0.044),(13.8,0.061),(13.9,0.068),(14.0,0.14),(14.2,0.067),(14.4,0.045),(14.6,0.165),(14.7,0.064),(14.8,0.12),(14.9,0.11),(15.1,0.17),(15.4,0.10),(15.8,0.19),(16.0,0.12),(16.1,0.14),(16.3,0.17),(16.4,0.11),(16.5,0.12),(16.7,0.165),(16.8,0.13),(16.9,0.165),(17.0,0.11),(17.2,0.48),(17.2,0.12),(17.3,0.074),(17.3,0.14),(17.4,0.10),(17.5,0.19),(17.6,0.165),(17.7,0.15),(17.7,0.12),
    (21.1,0.25),(21.6,0.15),(21.7,0.32),(22.1,0.165),(22.7,0.15),(23.0,0.34),(23.3,0.37),(23.3,0.165),(23.9,0.46),(24.8,0.22),(25.1,0.18),(25.3,0.15),(26.1,0.20),(26.2,0.19),(26.8,0.59),(26.6,0.14),
    (21.0,0.11),(21.3,0.105),(21.5,0.11),(21.8,0.12),(22.0,0.10),(22.3,0.11),(22.5,0.105),(22.8,0.12),(23.1,0.11),(23.4,0.10),(23.6,0.12),(23.8,0.115),(24.0,0.11),(24.3,0.13),(24.5,0.10),(24.7,0.12),(24.9,0.11),(25.2,0.13),(25.4,0.10),(25.6,0.12),(25.8,0.11),(26.0,0.13),(26.3,0.12),(26.5,0.10),(26.7,0.12),(26.9,0.11),(24.1,0.14),(24.6,0.165),(25.0,0.14),(26.4,0.16)]
rhode_island_nondetect = [(0.09,[11.9,12.1,12.3,12.5,12.7,12.9,13.1,13.3,13.5,13.7,13.9,14.1,14.3,14.5,14.7,14.9,15.1,15.3,15.5,15.7,15.9,16.1,16.3,16.5,16.7,16.9,17.1,17.3,17.5,17.7,
    20.9,21.1,21.3,21.5,21.7,21.9,22.1,22.3,22.5,22.7,22.9,23.1,23.3,23.5,23.7,23.9,24.1,24.3,24.5,24.7,24.9,25.1,25.3,25.5,25.7,25.9,26.1,26.3,26.5,26.7,27.0])]

utah_detect = [(-3.0,0.46),(-2.7,0.25),(-2.5,0.71),(-2.3,0.16),(-2.2,0.55),(-1.6,0.17),(-1.2,0.15),(-0.7,0.67),(-0.5,0.135),(-0.4,0.77),(-0.2,0.2),(0.5,0.16),(0.6,0.2),(0.8,0.50),(1.4,0.16),(1.5,0.28),(1.8,0.27),(2.6,0.29),(2.8,0.58),(3.0,0.23),(3.2,0.41),(3.4,0.21),(3.6,0.71),(5.3,0.24),(5.7,0.2),(5.8,0.2),(5.9,0.68),(6.1,0.6),(6.3,0.27),(6.5,0.38),(6.7,0.3),(6.9,0.48),(7.1,0.67),(8.3,0.31),(8.9,0.15),(9.3,0.29),(9.7,0.35),(10.2,0.37),(10.7,0.25),(11.3,0.80),(11.5,0.35),(12.0,0.37),(13.3,0.23),(13.4,0.51),(14.1,0.18),(14.4,0.36),(14.7,0.18),(15.1,0.89),(15.4,0.65),(15.6,0.2),(15.8,0.12),(16.2,0.23),(16.4,0.16),(16.6,0.34),(16.9,0.48),(17.1,0.48),(17.4,0.48),(17.6,0.21),(17.8,1.40),(18.2,0.37),(18.8,0.78),(19.0,0.31),(19.2,0.31),(19.6,0.42),(19.7,0.11),(20.2,0.15),(20.4,0.12),(20.6,0.13),(21.2,0.12),(22.0,0.17),(22.8,0.15),(23.8,0.25),(25.5,0.3),(25.9,0.12),(26.1,0.35),(26.3,0.095),(26.9,0.32)]
utah_nondetect = [(0.107,[2.0,2.2,3.7,4.0,4.3,4.6,4.9,5.3,7.3,10.8,11.1,11.4,11.7,12.0,12.3,12.6,13.2,14.7,15.1,15.3,16.8,19.9,20.9,21.4,21.6,22.3,22.4,22.9,23.9,24.7,24.9,25.1,25.7]),
    (0.08,[-1.9,0.0,0.2,1.0,1.3])]

washington_detect = [(-2.9,0.17),(-2.8,0.52),(-2.5,0.25),(-2.4,0.24),(-2.7,0.14),(-2.5,0.145),(-1.8,0.094),(-1.7,0.16),(-1.3,0.35),(0.5,0.18),(0.8,0.18),(1.1,0.155),(1.4,0.185),(1.6,0.19),(1.7,0.09),(1.9,0.28),(2.2,0.11),(2.5,0.24),(2.7,0.26),(2.8,0.35),(3.0,0.18),(3.2,0.205),(3.3,0.17),(3.4,0.30),(3.6,0.22),(3.7,0.175),(3.8,0.215),(4.1,0.12),(4.3,0.175),(4.4,0.22),(4.5,0.135),(4.6,0.67),(4.8,0.16),(5.0,0.27),(5.2,0.22),(5.3,0.18),(5.4,0.11),(5.6,0.19),(5.7,0.235),(5.9,0.145),(6.0,0.45),(6.1,0.31),(6.3,0.31),(6.4,0.115),(6.5,0.25),(6.7,0.14),(6.8,0.116),(7.0,0.78),(7.2,0.36),(7.3,0.67),(7.5,0.145),(7.6,0.37),(7.7,0.24),(7.9,0.31),(8.0,0.79),(8.1,0.2),(8.4,0.37),(8.7,0.30),(8.8,0.36),(9.1,0.145),(9.3,0.15),(9.6,0.23),(9.9,0.22),(10.2,0.19),(10.6,0.16),(11.6,0.15),(11.9,0.15),(13.6,0.16),(14.0,0.12),(19.7,0.13),(20.6,0.17),(20.8,0.17),(21.2,0.27),(22.6,0.21),(23.2,0.27),(23.5,0.28),(23.4,0.16),(23.8,0.12),(24.2,0.11)]
washington_nondetect = [(0.107,[1.9,2.2,2.5,2.8,3.1,3.4,3.7,4.0,4.4,4.8,5.4,5.7,6.3,6.6,6.8,7.7,8.0,8.3,8.6,8.9,9.5,9.8,10.1,10.4,10.8,11.1,11.6,11.9,12.3,12.7,13.3,13.6,14.0,14.3,19.2,19.5,19.8,20.1,20.4,20.7,21.0,21.3,21.6,21.9,22.2,22.5,22.8,24.0,24.3,24.6,24.9,25.2,25.5,25.9]),
    (0.081,[0.8,1.1]),(0.087,[1.3]),(0.066,[1.9]),(0.047,[25.8,26.2,26.6,27.0])]

wisconsin_detect = [(12.7,0.176),(15.7,0.246),(17.7,0.183),(18.7,0.32),(19.5,0.30),(24.8,0.306),(26.6,0.205)]
wisconsin_nondetect = [(0.091,[12.9,13.1,13.4,13.6,13.9,14.1,14.4,14.6,14.9,15.1,15.4,15.6,15.9,16.1,16.4,16.6,16.9,17.1,17.4,17.6,17.9,18.1,18.4,18.6,18.9,19.1,19.4,19.6,19.9,20.1,20.4,20.6,20.9,21.1,21.4,21.6]),
    (0.107,[24.6,24.8,25.0,25.2,25.4,25.6,25.8,26.0,26.3]),(0.047,[26.6,26.8,27.0,27.2])]

states = ["Arizona", "Colorado", "Florida", "Georgia", "Illinois", "Kentucky",
          "Massachusetts", "Michigan", "Missouri", "New Jersey", "New York", "Oklahoma",
          "Pennsylvania", "Rhode Island", "Utah", "Washington", "Wisconsin"]
detect_lists = [arizona_detect, colorado_detect, florida_detect, georgia_detect, illinois_detect, kentucky_detect,
                massachusetts_detect, michigan_detect, missouri_detect, new_jersey_detect, new_york_detect, oklahoma_detect,
                pennsylvania_detect, rhode_island_detect, utah_detect, washington_detect, wisconsin_detect]
nondetect_lists = [arizona_nondetect, colorado_nondetect, florida_nondetect, georgia_nondetect, illinois_nondetect, kentucky_nondetect,
                   massachusetts_nondetect, michigan_nondetect, missouri_nondetect, new_jersey_nondetect, new_york_nondetect, oklahoma_nondetect,
                   pennsylvania_nondetect, rhode_island_nondetect, utah_nondetect, washington_nondetect, wisconsin_nondetect]

y_ticks = [[0.1, 0.3, 1.0], [0.1, 0.3, 1.0], [0.03, 0.05, 0.10], [0.1, 0.3, 1.0, 3.0], [0.1, 0.3, 1.0], [0.1, 0.3, 1.0],
           [0.1, 0.3, 0.5], [0.1, 0.3, 1.0], [0.1, 0.3, 1.0], [0.1, 0.3, 1.0], [0.1, 0.3, 1.0], [0.05, 0.10, 0.30, 0.50],
           [0.05, 0.10, 0.30, 0.50], [0.05, 0.10, 0.30, 0.50], [0.1, 0.3, 1.0], [0.05, 0.10, 0.30, 0.50], [0.05, 0.10, 0.30]]
y_tick_labels = [["0.1", "0.3", "1.0"], ["0.1", "0.3", "1.0"], ["0.03", "0.05", "0.10"], ["0.1", "0.3", "1.0", "3.0"],
                 ["0.1", "0.3", "1.0"], ["0.1", "0.3", "1.0"], ["0.1", "0.3", "0.5"], ["0.1", "0.3", "1.0"],
                 ["0.1", "0.3", "1.0"], ["0.1", "0.3", "1.0"], ["0.1", "0.3", "1.0"], ["0.05", "0.10", "0.30", "0.50"],
                 ["0.05", "0.10", "0.30", "0.50"], ["0.05", "0.10", "0.30", "0.50"], ["0.1", "0.3", "1.0"],
                 ["0.05", "0.10", "0.30", "0.50"], ["0.05", "0.10", "0.30"]]
y_limits = [(0.040, 1.68), (0.038, 1.62), (0.0135, 0.279), (0.037, 8.0), (0.039, 1.31), (0.039, 1.82),
            (0.0815, 0.916), (0.0395, 1.25), (0.0353, 1.07), (0.035, 1.73), (0.045, 1.8), (0.040, 0.94),
            (0.042, 0.66), (0.038, 0.666), (0.070, 1.64), (0.040, 0.89), (0.042, 0.354)]
x_tick_dates = ["2019-01-01", "2019-07-01", "2020-01-01", "2020-07-01", "2021-01-01", "2021-07-01"]
x_tick_labels = ["Jan '19", "Jul '19", "Jan '20", "Jul '20", "Jan '21", "Jul '21"]
x_range_months = (-4.79, 31.38)

# ---------------- build the long table ----------------
BASE = pd.Timestamp("2019-01-01")
def to_date(m):
    return BASE + pd.to_timedelta(np.asarray(m, dtype=float) * 30.4375, unit="D")

rows = []
for st, det, nd in zip(states, detect_lists, nondetect_lists):
    for m, v in det:
        rows.append((st, m, v, "Detect"))
    for v, months in nd:
        for m in months:
            rows.append((st, m, v, "Non - detect"))
df = pd.DataFrame(rows, columns=["state", "month", "value", "status"])
df["date"] = to_date(df["month"])

# ---------------- figure ----------------
W, H = 1370, 1112
fig = plt.figure(figsize=(W / 100, H / 100), dpi=100)
fig.patch.set_facecolor("white")

col_x = [121.5, 547.5, 973.5]
pw, ph = 370, 130
row_top = [54 + 172.4 * r for r in range(6)]
strip_h = 30

def fig_rect(x, y, w, h):
    return [x / W, 1 - (y + h) / H, w / W, h / H]

def fx(px):
    return px / W

def fy(py):
    return 1 - py / H

bottom_panels = {"Washington", "Wisconsin", "Utah"}
palette = {"Detect": "black", "Non - detect": "darkred"}
xlim = tuple(to_date(list(x_range_months)))
xt = pd.to_datetime(x_tick_dates)

for i, st in enumerate(states):
    r, c = divmod(i, 3)
    ax = fig.add_axes(fig_rect(col_x[c], row_top[r], pw, ph))
    sub = df[df["state"] == st]
    sns.scatterplot(data=sub, x="date", y="value", hue="status", hue_order=["Detect", "Non - detect"],
                    palette=palette, alpha=0.45, s=28, linewidth=0, legend=False, ax=ax)
    ax.set_yscale("log")
    ax.set_ylim(*y_limits[i])
    ax.yaxis.set_major_locator(FixedLocator(y_ticks[i]))
    ax.yaxis.set_major_formatter(FixedFormatter(y_tick_labels[i]))
    ax.yaxis.set_minor_locator(NullLocator())
    ax.set_xlim(xlim[0], xlim[1])
    ax.set_xticks(xt)
    ax.set_xlabel("")
    ax.set_ylabel("")
    for s in ["top", "right"]:
        ax.spines[s].set_visible(False)
    ax.spines["left"].set_color("#333333")
    ax.spines["left"].set_linewidth(1.1)
    ax.tick_params(axis="y", length=3.5, width=1.0, color="#333333", pad=2, labelsize=11.5, left=True)
    if st in bottom_panels:
        ax.spines["bottom"].set_color("#333333")
        ax.spines["bottom"].set_linewidth(1.1)
        ax.set_xticklabels(x_tick_labels)
        ax.tick_params(axis="x", length=3.5, width=1.0, color="#333333", pad=3, labelsize=11.5, bottom=True)
    else:
        ax.spines["bottom"].set_visible(False)
        ax.tick_params(axis="x", bottom=False, labelbottom=False)
    for lab in ax.get_yticklabels() + ax.get_xticklabels():
        lab.set_fontweight("bold")
        lab.set_color("black")
    ax.set_facecolor("white")
    ax.grid(False)
    # facet strip
    ax.add_patch(Rectangle((0.002, 1.0), 0.998, strip_h / ph, transform=ax.transAxes, clip_on=False,
                           facecolor="#cccccc", edgecolor="none"))
    ax.text(0.5, 1.0 + strip_h / ph / 2, st, transform=ax.transAxes, ha="center", va="center",
            fontsize=14.5, color="#1a1a1a")

# axis titles
fig.text(fx(47), fy(548), "Ethylene Oxide\n[micrograms per cubic meter]", rotation=90,
         ha="center", va="center", fontsize=16.8, multialignment="center", linespacing=1.0)
fig.text(fx(733), fy(1088), "Date", ha="center", va="center", fontsize=17)

# legend (drawn manually to match placement)
fig.text(fx(978), fy(958), "Detected Value", ha="left", va="center", fontsize=17, color="#1a1a1a")
fig.add_artist(Line2D([fx(990)], [fy(993)], marker="o", ls="", color="black", alpha=0.45,
                      markersize=5, markeredgewidth=0, transform=fig.transFigure))
fig.add_artist(Line2D([fx(990)], [fy(1026)], marker="o", ls="", color="darkred", alpha=0.45,
                      markersize=5, markeredgewidth=0, transform=fig.transFigure))
fig.text(fx(1016), fy(993), "Detect", ha="left", va="center", fontsize=15, color="#1a1a1a")
fig.text(fx(1016), fy(1016), "Non - detect", ha="left", va="center", fontsize=15, color="#1a1a1a")
fig.text(fx(1040), fy(1038), "(value is limit of detection)", ha="left", va="center", fontsize=15, color="#1a1a1a")

# blue outer frame
fig.patches.append(Rectangle((10.5 / W, 5.5 / H), 1349 / W, 1096 / H, transform=fig.transFigure,
                             fill=False, edgecolor="#5b9bd5", linewidth=3.8))

fig.savefig("out.png", dpi=100, facecolor="white")
